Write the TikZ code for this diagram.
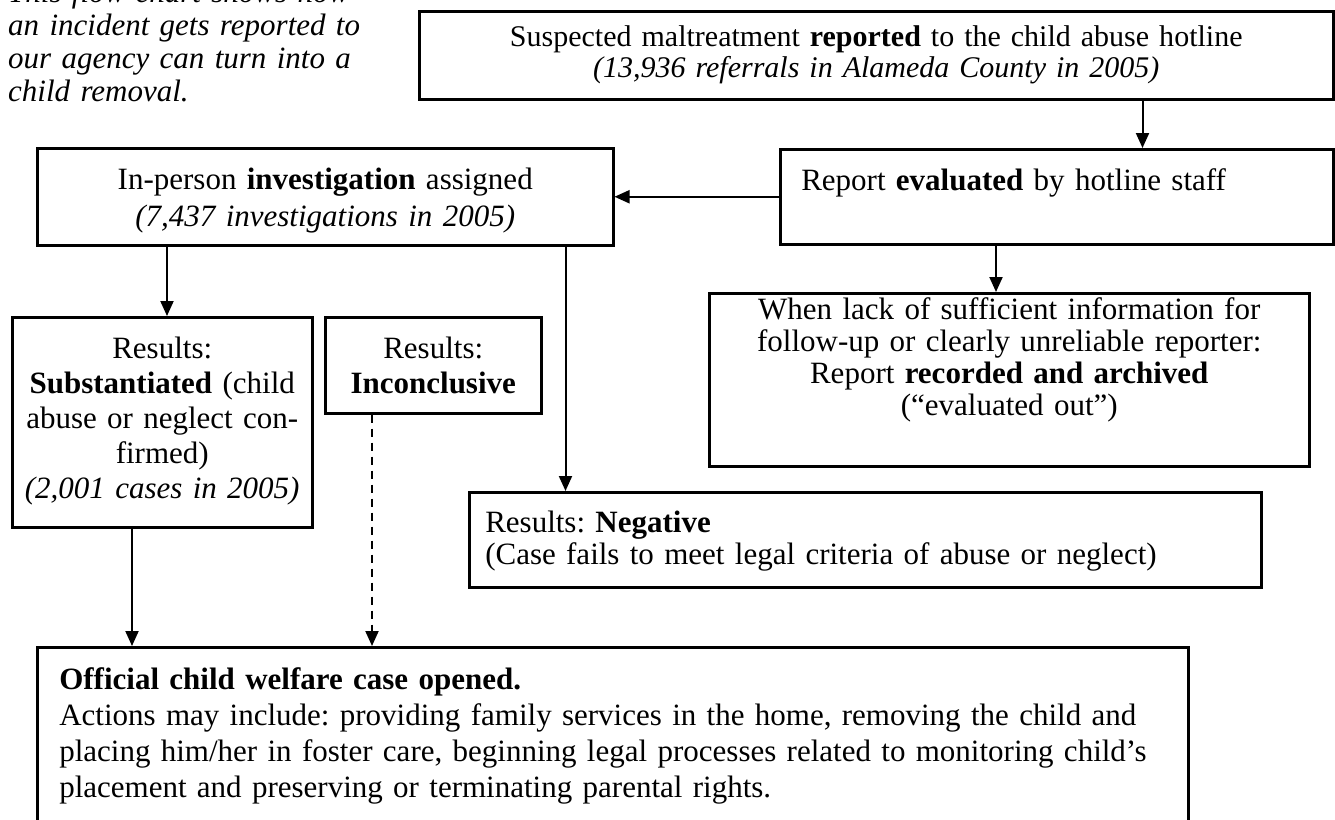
\documentclass[tikz,border=0pt]{standalone}
\usepackage{fontspec}
\setmainfont{Liberation Serif}
\frenchspacing
\usetikzlibrary{arrows.meta,positioning}

\begin{document}
\begin{tikzpicture}[x=1pt, y=-1pt,
    box/.style={draw, line width=2.5pt, anchor=north west, inner xsep=0pt, inner ysep=0pt, align=center},
    arr/.style={-{Triangle[length=15pt,width=13pt]}, line width=2pt},
    dasharr/.style={arr, dash pattern=on 8pt off 6pt}]

    \useasboundingbox (0,0) rectangle (1335,819);
    \clip (0,0) rectangle (1335,819);

    % Intro text
    \node[anchor=north west, inner sep=0pt, text width=390pt, align=left, text height=32pt,
          font=\fontsize{31}{33}\selectfont\itshape] (intro) at (8,-30)
        {This flow chart shows how\\ an incident gets reported to\\ our agency can turn into a\\ child removal.};

    % Boxes
    \node[box, text width=914pt, text height=35pt, text depth=53pt,
          font=\fontsize{30}{31}\selectfont] (report) at (418,10)
        {Suspected maltreatment \textbf{reported} to the child abuse hotline\\
         \textit{(13,936 referrals in Alameda County in 2005)}};
    \node[box, text width=576pt, text height=41pt, text depth=56pt,
          font=\fontsize{31}{37}\selectfont] (invest) at (36,147)
        {In-person \textbf{investigation} assigned\\ \textit{(7,437 investigations in 2005)}};
    \node[box, align=left, inner xsep=21pt, text width=511pt, text height=41pt, text depth=54pt,
          font=\fontsize{31}{36}\selectfont] (eval) at (779,148)
        {Report \textbf{evaluated} by hotline staff};
    \node[box, text width=600pt, text height=26pt, text depth=147pt,
          font=\fontsize{31}{32}\selectfont] (archived) at (708,292)
        {When lack of sufficient information for\\ follow-up or clearly unreliable reporter:\\
         Report \textbf{recorded and archived}\\ (“evaluated out”)};
    \node[box, text width=300pt, text height=41pt, text depth=169pt,
          font=\fontsize{31}{35}\selectfont] (subst) at (11,316)
        {Results:\\ \textbf{Substantiated} (child\\ abuse or neglect con-\\ firmed)\\
         \textit{(2,001 cases in 2005)}};
    \node[box, text width=216pt, text height=41pt, text depth=55pt,
          font=\fontsize{31}{35}\selectfont] (inconc) at (324,316)
        {Results:\\ \textbf{Inconclusive}};
    \node[box, align=left, inner xsep=16pt, text width=760pt, text height=40pt, text depth=55pt,
          font=\fontsize{31}{32}\selectfont] (negative) at (468,491)
        {Results: \textbf{Negative}\\ (Case fails to meet legal criteria of abuse or neglect)};
    \node[box, align=left, inner xsep=22pt, text width=1107pt, text height=42pt, text depth=220pt,
          font=\fontsize{31}{36}\selectfont] (opened) at (36,646)
        {\textbf{Official child welfare case opened.}\\
         Actions may include: providing family services in the home, removing the child and\\
         placing him/her in foster care, beginning legal processes related to monitoring child’s\\
         placement and preserving or terminating parental rights.};

    % Connections
    \coordinate (r1) at ([xshift=-192pt]report.south east);
    \coordinate (e1) at ([xshift=217pt]eval.south west);
    \coordinate (i1) at ([xshift=131pt]invest.south west);
    \coordinate (i2) at ([xshift=-49pt]invest.south east);
    \coordinate (s1) at ([xshift=121pt]subst.south west);
    \coordinate (c1) at ([xshift=48pt]inconc.south west);

    \draw[arr] (r1) -- (r1 |- eval.north);
    \draw[arr] (eval.west) -- (invest.east);
    \draw[arr] (e1) -- (e1 |- archived.north);
    \draw[arr] (i1) -- (i1 |- subst.north);
    \draw[arr] (i2) -- (i2 |- negative.north);
    \draw[arr] (s1) -- (s1 |- opened.north);
    \draw[dasharr] (c1) -- (c1 |- opened.north);
\end{tikzpicture}
\end{document}
